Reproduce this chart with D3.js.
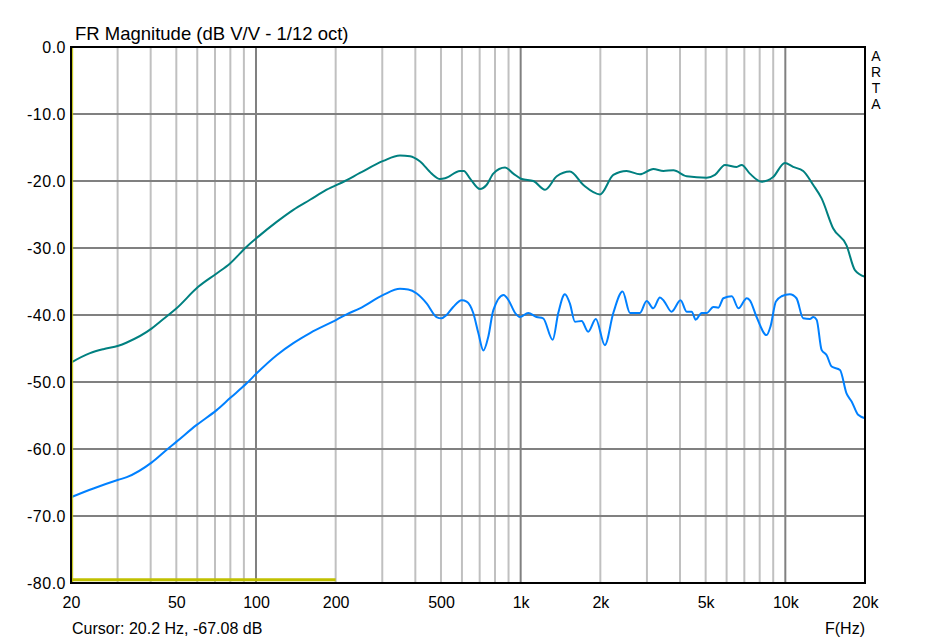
<!DOCTYPE html>
<html>
<head>
<meta charset="utf-8">
<script src="https://cdn.jsdelivr.net/npm/d3@7"></script>
<style>
  html, body { margin: 0; padding: 0; background: #fff; }
  svg { display: block; }
  text { font-family: "Liberation Sans", Arial, sans-serif; fill: #000; }
</style>
</head>
<body>
<svg id="chart" width="937" height="641"></svg>
<script>
// ---- data ----
const title = "FR Magnitude (dB V/V - 1/12 oct)";
const cursorText = "Cursor: 20.2 Hz, -67.08 dB";
const xAxisName = "F(Hz)";
const brand = ["A", "R", "T", "A"];

const yTicks = [0, -10, -20, -30, -40, -50, -60, -70, -80];
const xTickValues = [20, 50, 100, 200, 500, 1000, 2000, 5000, 10000, 20000];
const xTickLabels = ["20", "50", "100", "200", "500", "1k", "2k", "5k", "10k", "20k"];
const majorFreqs = [100, 1000, 10000];
const minorFreqs = [30, 40, 50, 60, 70, 80, 90, 200, 300, 400, 500, 600, 700, 800, 900,
                    2000, 3000, 4000, 5000, 6000, 7000, 8000, 9000];

// upper (teal) trace
const upperFreq = [20, 23.6, 26.5, 30.2, 32.5, 40.4, 43.4, 50.1, 60.5, 71, 79.8, 92.2, 102, 119.7, 138.4, 160, 184.9, 216.9, 247,
  302.7, 350, 382, 417, 461, 496, 518, 590, 610, 643, 702, 743, 788, 873, 938, 1009, 1117, 1236, 1369, 1535, 1726, 1995,
  2239, 2513, 2823, 3170, 3462, 3776, 4238, 5045, 5421, 5914, 6547, 6839, 7346, 8130, 8993, 9956, 10702, 11680, 12750,
  13710, 15170, 17030, 18320, 20000];
const upperDb = [-47.1, -45.7, -45.1, -44.6, -44.1, -42.0, -41.0, -39.0, -35.8, -33.8, -32.3, -29.8, -28.3, -26.1, -24.3, -22.8, -21.3, -20.0, -18.8,
  -17.0, -16.2, -16.3, -17.1, -18.9, -19.7, -19.6, -18.5, -18.5, -19.6, -21.2, -20.6, -18.9, -18.0, -18.9, -19.7, -20.0, -21.3, -19.3, -18.6, -20.6, -22.0,
  -19.1, -18.5, -19.0, -18.2, -18.5, -18.4, -19.3, -19.5, -19.1, -17.6, -17.9, -17.6, -18.9, -20.1, -19.4, -17.3, -17.9, -18.5, -20.6,
  -22.6, -27.1, -29.6, -33.3, -34.3];

// lower (blue) trace
const lowerFreq = [20, 24.3, 30.2, 32.5, 40.4, 46, 50.1, 59.7, 71, 79.8, 92.2, 100.6, 119.7, 138.4, 160, 201.8, 220, 247,
  302.7, 350, 376, 405, 442, 481, 502, 525, 556, 599, 625, 662, 692, 723, 755, 788, 862, 900, 953, 994, 1068, 1148, 1216,
  1321, 1387, 1469, 1535, 1604, 1699, 1799, 1923, 2080, 2239, 2427, 2589, 2823, 2991, 3170, 3359, 3478, 3716, 4019, 4238,
  4429, 4584, 4829, 5045, 5346, 5584, 5834, 6277, 6650, 7151, 7346, 7788, 8495, 8792, 9208, 9679, 10400, 11020, 11680,
  12390, 12750, 13130, 13710, 14330, 14960, 16090, 17030, 17800, 18840, 20000];
const lowerDb = [-67.2, -65.9, -64.6, -64.2, -62.0, -60.1, -58.9, -56.4, -54.2, -52.4, -50.2, -48.7, -46.0, -44.2, -42.7, -40.7, -39.9, -39.0,
  -37.0, -36.1, -36.2, -36.8, -38.3, -40.3, -40.5, -40.0, -38.8, -37.8, -38.0, -39.7, -42.7, -45.3, -43.2, -39.3, -37.0, -37.8, -39.7, -40.3, -39.7, -40.3, -40.5,
  -43.7, -39.7, -36.9, -38.3, -41.0, -40.9, -42.5, -40.6, -44.5, -39.7, -36.5, -39.7, -39.7, -37.9, -39.0, -37.4, -37.9, -39.5, -37.8, -39.5,
  -39.5, -40.7, -39.7, -39.7, -38.8, -38.9, -37.5, -37.2, -39.0, -37.5, -37.8, -40.3, -43.0, -41.7, -38.0, -37.2, -36.9, -37.5, -40.5,
  -40.6, -40.3, -40.7, -45.2, -46.0, -47.7, -48.2, -51.7, -52.9, -54.9, -55.4];

// yellow reference trace
const refFreq = [20, 200];
const refDb = [-79.5, -79.5];
const cursorFreq = 20.2;

// ---- drawing ----
const svg = d3.select("#chart");
svg.append("rect").attr("width", 937).attr("height", 641).attr("fill", "#fff");

const L = 71, R = 865, T = 47, B = 583;
const x = d3.scaleLog().domain([20, 20000]).range([L, R]);
const y = d3.scaleLinear().domain([-80, 0]).range([B, T]);

const grid = svg.append("g");
grid.selectAll("line.minor").data(minorFreqs).join("line")
  .attr("x1", d => x(d)).attr("x2", d => x(d)).attr("y1", T).attr("y2", B)
  .attr("stroke", "#c0c0c0").attr("stroke-width", 2);
grid.selectAll("line.h").data(yTicks).join("line")
  .attr("x1", L).attr("x2", R).attr("y1", d => y(d)).attr("y2", d => y(d))
  .attr("stroke", "#808080").attr("stroke-width", 2);
grid.selectAll("line.major").data(majorFreqs).join("line")
  .attr("x1", d => x(d)).attr("x2", d => x(d)).attr("y1", T).attr("y2", B)
  .attr("stroke", "#808080").attr("stroke-width", 2);

// traces
const line = d3.line().x(d => x(d[0])).y(d => y(d[1])).curve(d3.curveMonotoneX);
const refLine = d3.line().x(d => x(d[0])).y(d => y(d[1]));

svg.append("path").datum(d3.zip(refFreq, refDb)).attr("d", refLine)
  .attr("fill", "none").attr("stroke", "#c0c000").attr("stroke-width", 3);
svg.append("path").datum(d3.zip(lowerFreq, lowerDb)).attr("d", line)
  .attr("fill", "none").attr("stroke", "#0080ff").attr("stroke-width", 2);
svg.append("path").datum(d3.zip(upperFreq, upperDb)).attr("d", line)
  .attr("fill", "none").attr("stroke", "#008080").attr("stroke-width", 2);

// cursor line
svg.append("line").attr("x1", x(cursorFreq) + 0.5).attr("x2", x(cursorFreq) + 0.5)
  .attr("y1", T).attr("y2", B).attr("stroke", "#c0c000").attr("stroke-width", 1);

// frame
svg.append("rect").attr("x", L).attr("y", T).attr("width", R - L).attr("height", B - T)
  .attr("fill", "none").attr("stroke", "#000").attr("stroke-width", 2);

// axes
const fmtY = d => d.toFixed(1);
const yAxis = d3.axisLeft(y).tickValues(yTicks).tickFormat(fmtY).tickSize(0).tickPadding(5);
const gy = svg.append("g").attr("transform", `translate(${L},0)`).call(yAxis);
gy.select(".domain").remove();
gy.selectAll("text").attr("font-size", 16).attr("font-family", "Liberation Sans, Arial, sans-serif")
  .attr("fill", "#000").attr("letter-spacing", "0.5px");

const xAxis = d3.axisBottom(x).tickValues(xTickValues)
  .tickFormat((d, i) => xTickLabels[i]).tickSize(0).tickPadding(14);
const gx = svg.append("g").attr("transform", `translate(0,${B})`).call(xAxis);
gx.select(".domain").remove();
gx.selectAll("text").attr("font-size", 16).attr("font-family", "Liberation Sans, Arial, sans-serif")
  .attr("fill", "#000");

// texts
svg.append("text").attr("x", 75).attr("y", 40).attr("font-size", 18.5).text(title);
svg.append("text").attr("x", 72).attr("y", 634).attr("font-size", 16).text(cursorText);
svg.append("text").attr("x", 865).attr("y", 634).attr("font-size", 16).attr("text-anchor", "end").text(xAxisName);
svg.append("g").selectAll("text").data(brand).join("text")
  .attr("x", 876).attr("y", (d, i) => 61 + i * 16).attr("text-anchor", "middle")
  .attr("font-size", 14).text(d => d);
</script>
</body>
</html>
